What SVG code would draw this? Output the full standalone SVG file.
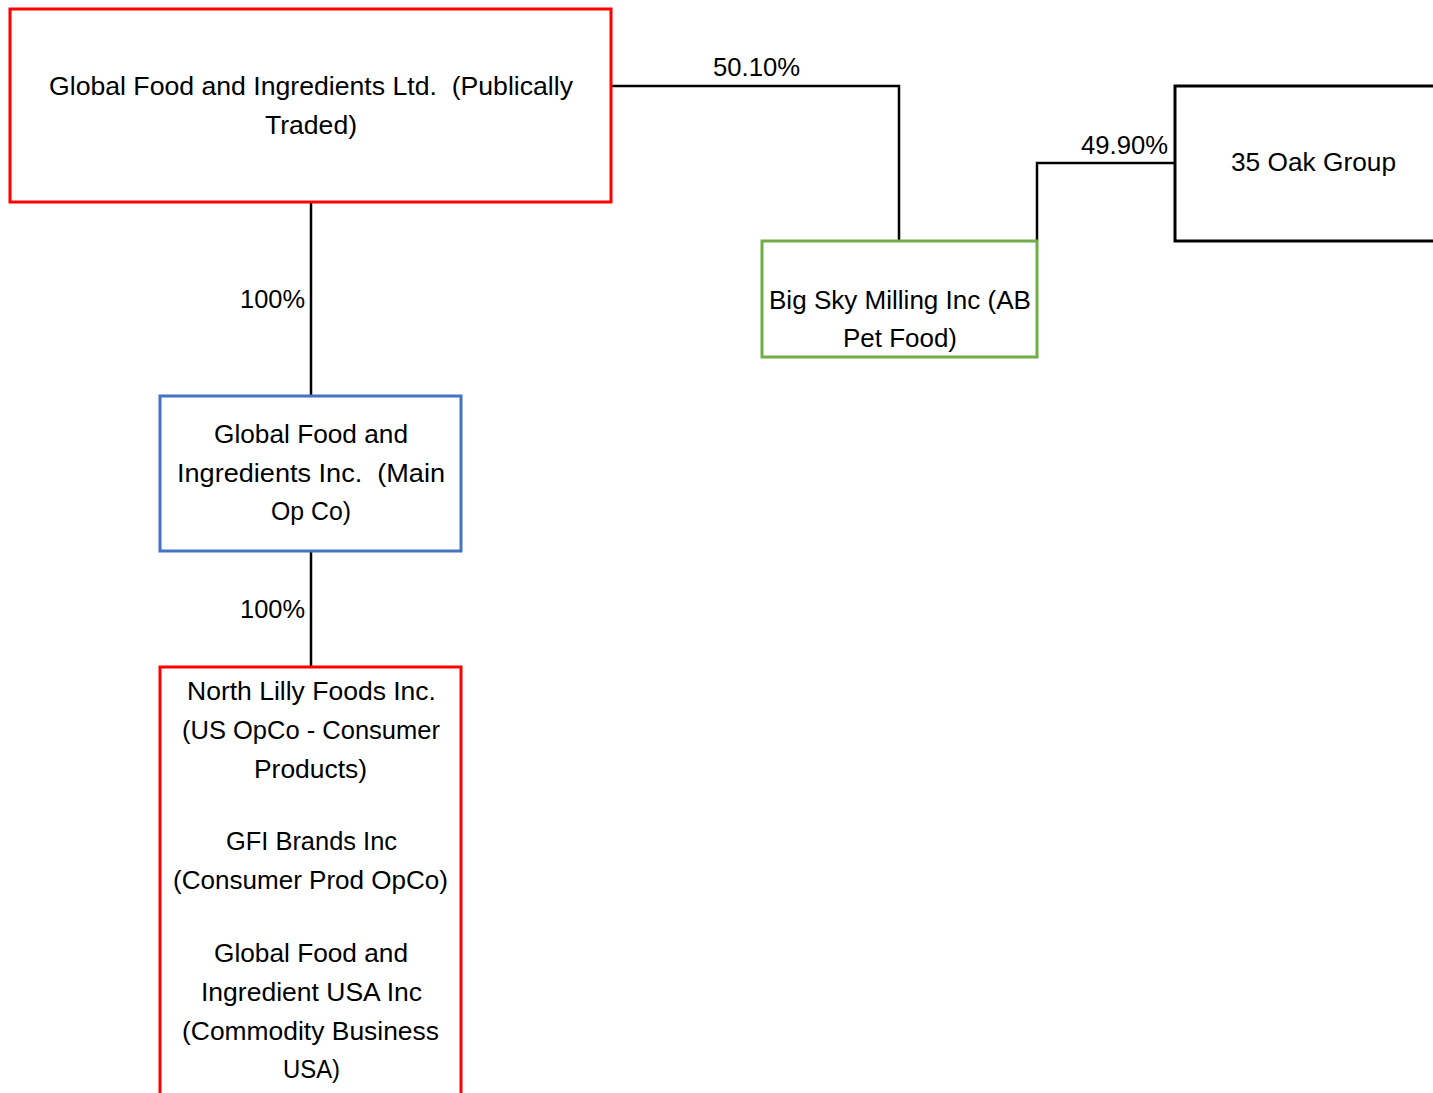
<svg xmlns="http://www.w3.org/2000/svg" width="1433" height="1093" viewBox="0 0 1433 1093">
<style>
  text { font-family: "Liberation Sans", Arial, sans-serif; font-size: 25px; fill: #000; text-anchor: middle; white-space: pre; }
  .box { fill: #fff; }
  .red { stroke: #ff0000; stroke-width: 3; }
  .blue { stroke: #4472c4; stroke-width: 3; }
  .green { stroke: #70ad47; stroke-width: 3; }
  .black { stroke: #000; stroke-width: 3; }
  .conn { fill: none; stroke: #000; stroke-width: 2.5; }
</style>
<rect width="1433" height="1093" fill="#fff"/>
<g id="connectors">
  <polyline class="conn" points="611,86 899,86 899,241"/>
  <polyline class="conn" points="1037,241 1037,163 1175,163"/>
  <line class="conn" x1="311" y1="202" x2="311" y2="396"/>
  <line class="conn" x1="311" y1="551" x2="311" y2="667"/>
  <text x="756.5" y="76" textLength="87" lengthAdjust="spacingAndGlyphs">50.10%</text>
  <text x="1124.5" y="154" textLength="87" lengthAdjust="spacingAndGlyphs">49.90%</text>
  <text x="272.5" y="308" textLength="65" lengthAdjust="spacingAndGlyphs">100%</text>
  <text x="272.5" y="618" textLength="65" lengthAdjust="spacingAndGlyphs">100%</text>
</g>
<g id="node-gfi-ltd">
  <rect class="box red" x="10" y="9" width="601" height="193"/>
  <text x="311" y="95" textLength="524" lengthAdjust="spacingAndGlyphs" xml:space="preserve">Global Food and Ingredients Ltd.  (Publically</text>
  <text x="311" y="134" textLength="92" lengthAdjust="spacingAndGlyphs">Traded)</text>
</g>
<g id="node-big-sky">
  <rect class="box green" x="762" y="241" width="275" height="116"/>
  <text x="900" y="309" textLength="262" lengthAdjust="spacingAndGlyphs">Big Sky Milling Inc (AB</text>
  <text x="900" y="347" textLength="114" lengthAdjust="spacingAndGlyphs">Pet Food)</text>
</g>
<g id="node-35-oak">
  <rect class="box black" x="1175" y="86" width="270" height="155"/>
  <text x="1313.5" y="171" textLength="165" lengthAdjust="spacingAndGlyphs">35 Oak Group</text>
</g>
<g id="node-gfi-inc">
  <rect class="box blue" x="160" y="396" width="301" height="155"/>
  <text x="311" y="443" textLength="194" lengthAdjust="spacingAndGlyphs">Global Food and</text>
  <text x="311" y="482" textLength="268" lengthAdjust="spacingAndGlyphs" xml:space="preserve">Ingredients Inc.  (Main</text>
  <text x="311" y="520" textLength="80" lengthAdjust="spacingAndGlyphs">Op Co)</text>
</g>
<g id="node-us-subs">
  <rect class="box red" x="160" y="667" width="301" height="450"/>
  <text x="311.5" y="700" textLength="249" lengthAdjust="spacingAndGlyphs">North Lilly Foods Inc.</text>
  <text x="311" y="739" textLength="258" lengthAdjust="spacingAndGlyphs">(US OpCo - Consumer</text>
  <text x="310.5" y="778" textLength="113" lengthAdjust="spacingAndGlyphs">Products)</text>
  <text x="311.5" y="850" textLength="171" lengthAdjust="spacingAndGlyphs">GFI Brands Inc</text>
  <text x="310.5" y="889" textLength="275" lengthAdjust="spacingAndGlyphs">(Consumer Prod OpCo)</text>
  <text x="311" y="962" textLength="194" lengthAdjust="spacingAndGlyphs">Global Food and</text>
  <text x="311.5" y="1001" textLength="221" lengthAdjust="spacingAndGlyphs">Ingredient USA Inc</text>
  <text x="310.5" y="1040" textLength="257" lengthAdjust="spacingAndGlyphs">(Commodity Business</text>
  <text x="311.5" y="1078" textLength="57" lengthAdjust="spacingAndGlyphs">USA)</text>
</g>
</svg>
